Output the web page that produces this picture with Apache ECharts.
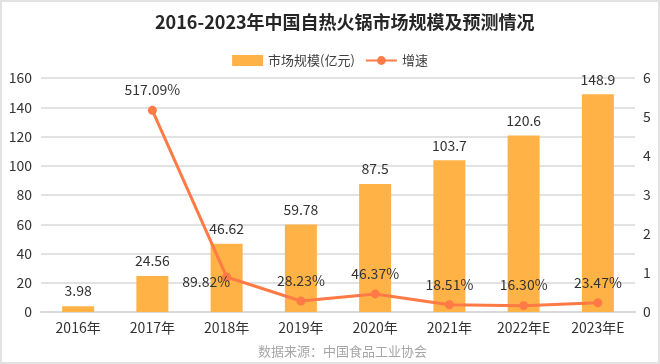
<!DOCTYPE html>
<html>
<head>
<meta charset="utf-8">
<script src="https://cdn.jsdelivr.net/npm/echarts@6/dist/echarts.min.js"></script>
<style>
html,body{margin:0;padding:0;background:#fff;}
#wrap{width:660px;height:364px;box-sizing:border-box;border:2px solid #e2e2e2;position:relative;}
#chart{position:absolute;left:-2px;top:-2px;width:660px;height:364px;}
</style>
</head>
<body>
<div id="wrap"><div id="chart"></div></div>
<script>
var titleText = '2016-2023年中国自热火锅市场规模及预测情况';
var sourceText = '数据来源：中国食品工业协会';
var categories = ['2016年','2017年','2018年','2019年','2020年','2021年','2022年E','2023年E'];
var marketSize = [3.98, 24.56, 46.62, 59.78, 87.5, 103.7, 120.6, 148.9];
var sizeLabels = ['3.98','24.56','46.62','59.78','87.5','103.7','120.6','148.9'];
var growth = [null, 5.1709, 0.8982, 0.2823, 0.4637, 0.1851, 0.1630, 0.2347];
var leftTicks = [0, 20, 40, 60, 80, 100, 120, 140, 160];
var rightTicks = [0, 1, 2, 3, 4, 5, 6];
var seriesNames = ['市场规模(亿元)', '增速'];

var FONT = '"Noto Sans CJK SC", "Noto Sans", sans-serif';
var chart = echarts.init(document.getElementById('chart'), null, {renderer: 'canvas'});

var growthData = growth.map(function (v, i) {
  if (i === 2) {
    return {value: v, label: {position: 'left', distance: 2, offset: [10, 5]}};
  }
  return v;
});

chart.setOption({
  animation: false,
  textStyle: {fontFamily: FONT},
  title: [{
    text: titleText,
    left: 150,
    top: 8,
    textStyle: {fontSize: 18, fontWeight: 'bold', color: '#262626', fontFamily: FONT}
  }, {
    text: sourceText,
    left: 253,
    top: 340,
    textStyle: {fontSize: 13, fontWeight: 'normal', color: '#a6a6a6', fontFamily: FONT}
  }],
  legend: {
    top: 49,
    left: 'center',
    itemWidth: 31,
    itemHeight: 11,
    itemGap: 10,
    textStyle: {fontSize: 13, color: '#404040', fontFamily: FONT},
    data: [
      {name: seriesNames[0], icon: 'rect'},
      {name: seriesNames[1]}
    ]
  },
  grid: {left: 41, right: 25, top: 78, bottom: 52, containLabel: false},
  xAxis: {
    type: 'category',
    data: categories,
    axisTick: {show: false},
    axisLine: {lineStyle: {color: '#d9d9d9', width: 2}},
    axisLabel: {fontSize: 14, color: '#333', margin: 9, fontFamily: FONT}
  },
  yAxis: [{
    type: 'value',
    min: leftTicks[0],
    max: leftTicks[leftTicks.length - 1],
    interval: leftTicks[1] - leftTicks[0],
    axisLine: {show: false},
    axisTick: {show: false},
    splitLine: {lineStyle: {color: '#d9d9d9', width: 1.5}},
    axisLabel: {fontSize: 14, color: '#333', margin: 9, fontFamily: FONT}
  }, {
    type: 'value',
    min: rightTicks[0],
    max: rightTicks[rightTicks.length - 1],
    interval: rightTicks[1] - rightTicks[0],
    axisLine: {show: false},
    axisTick: {show: false},
    splitLine: {show: false},
    axisLabel: {fontSize: 14, color: '#333', margin: 8, fontFamily: FONT}
  }],
  series: [{
    name: seriesNames[0],
    type: 'bar',
    data: marketSize,
    barWidth: 32,
    itemStyle: {color: '#FFB347'},
    label: {
      show: true,
      position: 'top',
      distance: 8,
      fontSize: 14,
      color: '#333',
      fontFamily: FONT,
      formatter: function (p) { return sizeLabels[p.dataIndex]; }
    }
  }, {
    name: seriesNames[1],
    type: 'line',
    yAxisIndex: 1,
    data: growthData,
    symbol: 'circle',
    symbolSize: 9,
    lineStyle: {color: '#FF7A45', width: 3},
    itemStyle: {color: '#FF7A45'},
    label: {
      show: true,
      position: 'top',
      distance: 9,
      fontSize: 14,
      color: '#333',
      fontFamily: FONT,
      formatter: function (p) { return (p.value * 100).toFixed(2) + '%'; }
    }
  }]
});
</script>
</body>
</html>
